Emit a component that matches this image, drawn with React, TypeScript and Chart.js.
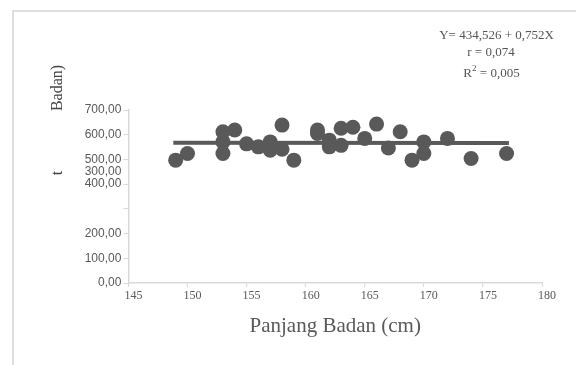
import React, { useEffect, useRef } from "react";
import { Chart, registerables } from "chart.js";

Chart.register(...registerables);

const panjangBadan = [149, 150, 153, 153, 153, 154, 155, 156, 157, 157, 158, 158, 159, 161, 161, 162, 162, 163, 163, 164, 165, 166, 167, 168, 169, 170, 170, 172, 174, 177];
const beratBadan = [497, 524, 612, 571, 524, 619, 563, 551, 571, 537, 639, 541, 497, 619, 605, 578, 551, 626, 557, 630, 585, 643, 546, 612, 497, 571, 524, 585, 504, 524];
const regressionX = [148.8, 177.2];
const regressionY = [567, 566];
const xTitle = "Panjang Badan (cm)";
const yTitleTop = "Badan)";
const yTitleBottom = "t";
const equationLines = ["Y= 434,526 + 0,752X", "r = 0,074"];
const rSquaredValue = "0,005";

const GRAY = "#595959";

const extrasPlugin = {
  id: "extras",
  beforeDraw(chart: any) {
    const ctx = chart.ctx;
    ctx.save();
    ctx.strokeStyle = "#dedede";
    ctx.lineWidth = 2;
    ctx.beginPath();
    ctx.moveTo(12, 11);
    ctx.lineTo(576, 11);
    ctx.moveTo(13, 10);
    ctx.lineTo(13, 365);
    ctx.stroke();
    ctx.restore();
  },
  afterDraw(chart: any) {
    const ctx = chart.ctx;
    ctx.save();
    ctx.fillStyle = "#444";
    ctx.font = "16px 'Liberation Serif'";
    ctx.textAlign = "center";
    ctx.textBaseline = "middle";
    ctx.save();
    ctx.translate(58, 88);
    ctx.rotate(-Math.PI / 2);
    ctx.fillText(yTitleTop, 0, 0);
    ctx.restore();
    ctx.save();
    ctx.translate(58, 173);
    ctx.rotate(-Math.PI / 2);
    ctx.fillText(yTitleBottom, 0, 0);
    ctx.restore();

    ctx.fillStyle = "#555";
    ctx.font = "13px 'Liberation Serif'";
    ctx.textBaseline = "alphabetic";
    ctx.textAlign = "center";
    ctx.fillText(equationLines[0], 496.5, 39);
    ctx.fillText(equationLines[1], 491, 56);
    ctx.textAlign = "left";
    const rest = " = " + rSquaredValue;
    ctx.font = "13px 'Liberation Serif'";
    const wR = ctx.measureText("R").width;
    const wRest = ctx.measureText(rest).width;
    ctx.font = "9px 'Liberation Serif'";
    const w2 = ctx.measureText("2").width;
    const total = wR + w2 + wRest;
    let sx = 491.5 - total / 2;
    ctx.font = "13px 'Liberation Serif'";
    ctx.fillText("R", sx, 76.5);
    ctx.font = "9px 'Liberation Serif'";
    ctx.fillText("2", sx + wR, 70.5);
    ctx.font = "13px 'Liberation Serif'";
    ctx.fillText(rest, sx + wR + w2, 76.5);
    ctx.restore();
  },
};

export default function App() {
  const ref = useRef<HTMLCanvasElement | null>(null);
  useEffect(() => {
    if (!ref.current) return;
    const points = panjangBadan.map((x, i) => ({ x, y: beratBadan[i] }));
    const line = regressionX.map((x, i) => ({ x, y: regressionY[i] }));
    const chart = new Chart(ref.current, {
      type: "scatter",
      data: {
        datasets: [
          {
            type: "line",
            data: line,
            borderColor: GRAY,
            borderWidth: 4,
            pointRadius: 0,
            fill: false,
          } as any,
          {
            data: points,
            backgroundColor: GRAY,
            borderWidth: 0,
            pointRadius: 7.5,
            pointHoverRadius: 7.5,
          },
        ],
      },
      options: {
        animation: false,
        responsive: false,
        maintainAspectRatio: false,
        layout: { padding: { left: 0, top: 110, right: 34, bottom: 0 } },
        plugins: { legend: { display: false }, tooltip: { enabled: false } },
        scales: {
          x: {
            type: "linear",
            min: 145,
            max: 180,
            afterFit: (s: any) => {
              s.height = 82;
            },
            border: { color: "#d9d9d9", width: 1.5 },
            grid: { drawOnChartArea: false, tickLength: 4, color: "#d9d9d9" },
            ticks: {
              stepSize: 5,
              padding: 2,
              labelOffset: 5,
              color: GRAY,
              font: { family: "'Liberation Serif'", size: 12 },
            },
            title: {
              display: true,
              text: xTitle,
              color: GRAY,
              font: { family: "'Liberation Serif'", size: 21 },
              padding: { top: 0, bottom: 26 },
            },
          },
          y: {
            type: "linear",
            min: 0,
            max: 700,
            afterFit: (s: any) => {
              s.width = 128.4;
            },
            border: { color: "#d9d9d9", width: 1.5 },
            grid: { drawOnChartArea: false, tickLength: 5, color: "#d9d9d9" },
            ticks: {
              stepSize: 100,
              autoSkip: false,
              padding: 2,
              color: GRAY,
              font: { family: "'Liberation Sans'", size: 12, lineHeight: 1 },
              callback: (v: any) => {
                const n = Number(v);
                if (n === 300) return "";
                const label = n.toFixed(2).replace(".", ",");
                if (n === 400) return ["300,00", label, ""];
                return label;
              },
            },
          },
        },
      },
      plugins: [extrasPlugin],
    });
    return () => chart.destroy();
  }, []);
  return (
    <canvas
      ref={ref}
      width={576}
      height={365}
      style={{ position: "fixed", left: 0, top: 0, width: 576, height: 365 }}
    />
  );
}
